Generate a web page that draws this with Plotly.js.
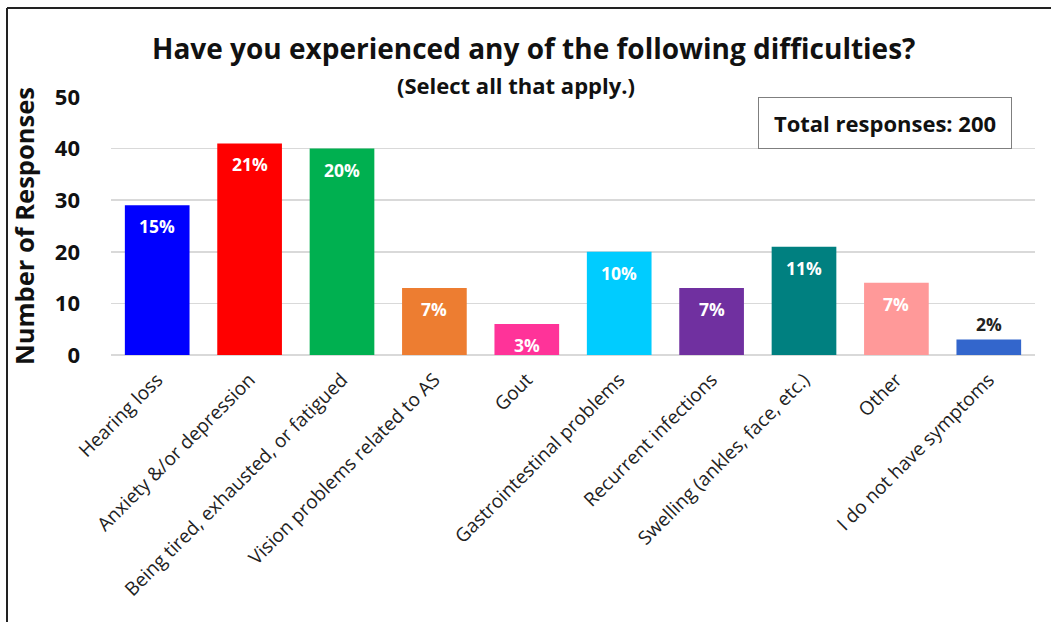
<!DOCTYPE html>
<html>
<head>
<meta charset="utf-8">
<script src="https://cdn.plot.ly/plotly-3.0.1.min.js"></script>
<style>html,body{margin:0;padding:0;background:#fff;}#chart{width:1051px;height:622px;}</style>
</head>
<body>
<div id="chart"></div>
<script>
const categories = ["Hearing loss","Anxiety &/or depression","Being tired, exhausted, or fatigued","Vision problems related to AS","Gout","Gastrointestinal problems","Recurrent infections","Swelling (ankles, face, etc.)","Other","I do not have symptoms"];
const counts = [29, 41, 40, 13, 6, 20, 13, 21, 14, 3];
const percentLabels = ["15%","21%","20%","7%","3%","10%","7%","11%","7%","2%"];
const barColors = ["#0000FF","#FF0000","#00B050","#ED7D31","#FF3399","#00CCFF","#7030A0","#008080","#FF9999","#3366CC"];
const totalResponses = 200;

const FONT = "'Open Sans', sans-serif";

const trace = {
  type: "bar",
  x: categories,
  y: counts,
  marker: {color: barColors, line: {width: 0}},
  hoverinfo: "x+y"
};

const n = counts.length;
const pctAnnotations = counts.map((v, i) => {
  const outside = i === n - 1;
  return {
    xref: "x", yref: "y", x: categories[i], y: v,
    text: "<b>" + percentLabels[i] + "</b>", showarrow: false,
    xanchor: "center", yanchor: outside ? "bottom" : "top",
    yshift: outside ? 2 : -7,
    font: {family: FONT, size: 17.5, color: outside ? "#222" : "#fff"}
  };
});

const layout = {
  width: 1051, height: 622,
  margin: {l: 111, r: 16, t: 97, b: 267},
  paper_bgcolor: "#fff", plot_bgcolor: "#fff",
  showlegend: false,
  bargap: 0.3,
  font: {family: FONT, color: "#222"},
  xaxis: {
    tickangle: -45,
    tickfont: {family: FONT, size: 19, color: "#222"},
    ticklabelstandoff: 9,
    showline: false, showgrid: false, ticks: "", automargin: false
  },
  yaxis: {
    range: [0, 50], dtick: 10,
    tickfont: {family: FONT, size: 22, color: "#111", weight: 700},
    gridcolor: "#D9D9D9", gridwidth: 1.5,
    zeroline: true, zerolinecolor: "#D9D9D9", zerolinewidth: 1.5,
    showline: false, ticks: "", ticklabelstandoff: 30,
    title: {text: "Number of Responses", font: {family: FONT, size: 25.5, color: "#111", weight: 700}, standoff: 12},
    automargin: false
  },
  annotations: [
    {xref: "paper", yref: "paper", x: (533-111)/924, y: (355-48)/258, xanchor: "center", yanchor: "middle",
     text: "<b>Have you experienced any of the following difficulties?</b>", showarrow: false,
     font: {family: FONT, size: 28, color: "#111"}},
    {xref: "paper", yref: "paper", x: (516-111)/924, y: (355-85)/258, xanchor: "center", yanchor: "middle",
     text: "<b>(Select all that apply.)</b>", showarrow: false,
     font: {family: FONT, size: 22, color: "#111"}},
    {xref: "paper", yref: "y", x: (885-111)/924, y: 45, xanchor: "center", yanchor: "middle",
     text: "<b>Total responses: " + totalResponses + "</b>", showarrow: false,
     font: {family: FONT, size: 22, color: "#111"},
     bordercolor: "#7F7F7F", borderwidth: 1, borderpad: 10, bgcolor: "#fff", width: 232}
  ].concat(pctAnnotations),
  shapes: [
    {type: "line", xref: "paper", yref: "paper", x0: (7-111)/924, x1: (1051-111)/924, y0: (355-8)/258, y1: (355-8)/258, line: {color: "#222", width: 2}},
    {type: "line", xref: "paper", yref: "paper", x0: (7-111)/924, x1: (7-111)/924, y0: (355-8)/258, y1: (355-622)/258, line: {color: "#222", width: 2}}
  ]
};

Plotly.newPlot("chart", [trace], layout, {displayModeBar: false, staticPlot: true});
</script>
</body>
</html>
